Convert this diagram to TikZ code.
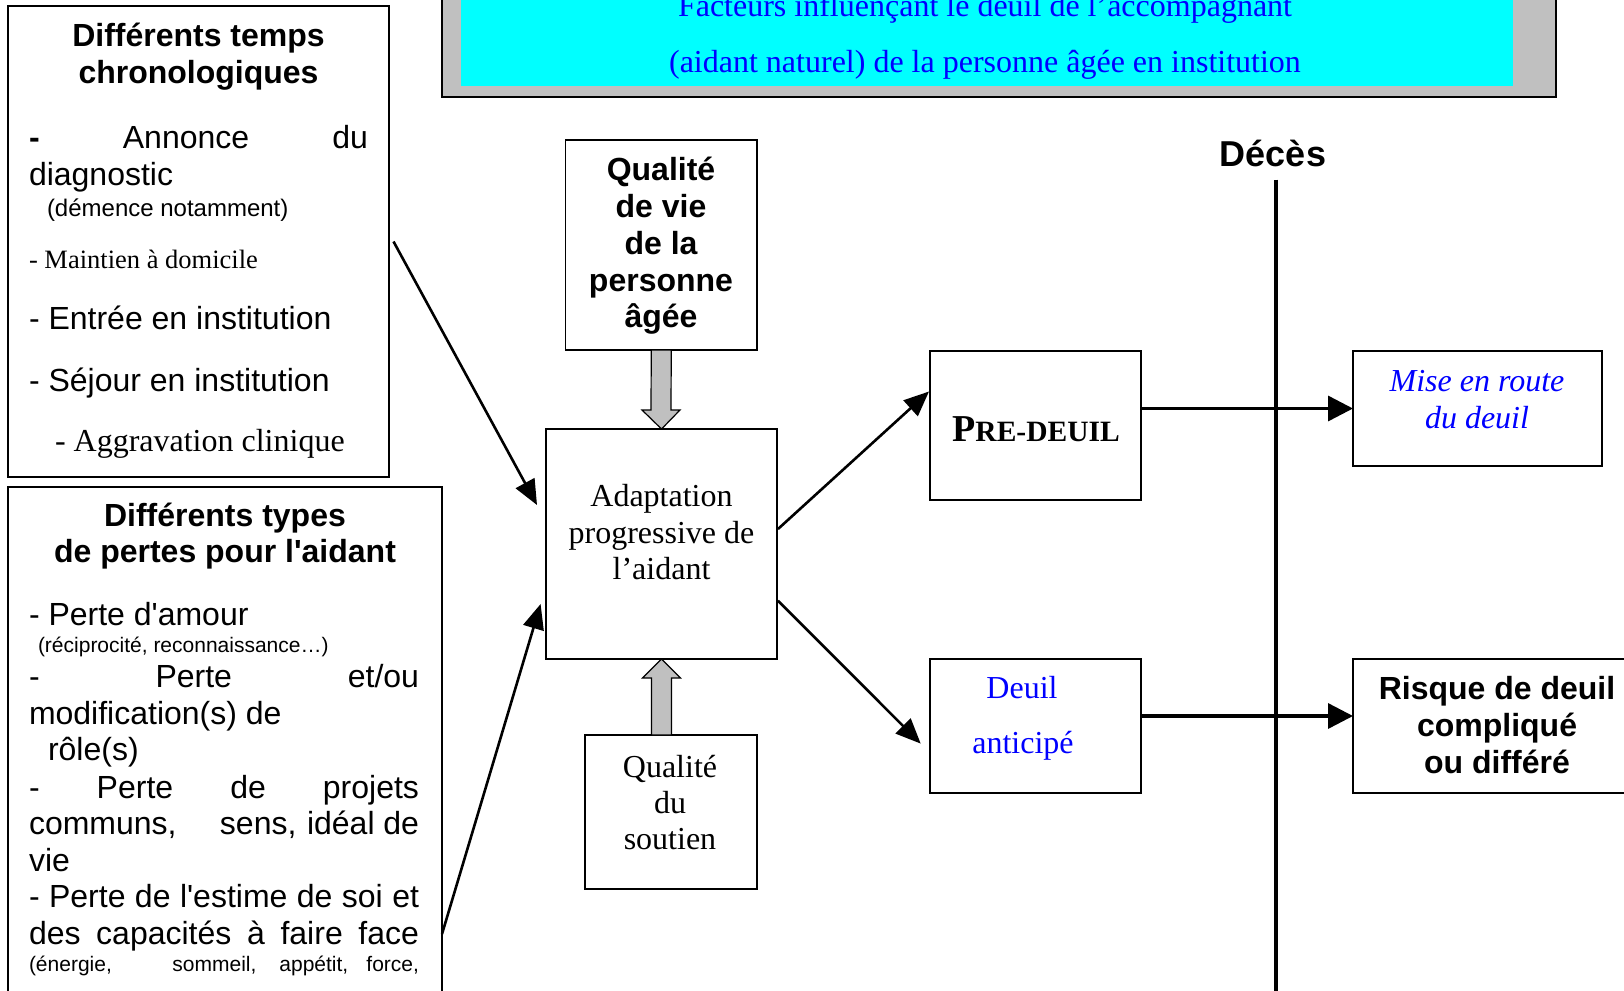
\documentclass[tikz,border=0pt]{standalone}
\usepackage{fontspec}
\setmainfont{Liberation Serif}
\newfontfamily\arialf{Liberation Sans}
\usetikzlibrary{arrows.meta,calc}
\definecolor{titlecyan}{RGB}{0,255,255}
\definecolor{framegray}{RGB}{192,192,192}
\definecolor{txtblue}{RGB}{0,0,255}
\tikzset{
  box/.style={draw=black, line width=1.6pt, fill=white, inner sep=0pt, outer sep=0pt},
  ar/.style={font=\arialf\fontsize{32}{37}\selectfont},
  arb/.style={font=\arialf\bfseries\fontsize{32}{37}\selectfont},
  arsmall/.style={font=\arialf\fontsize{21}{25}\selectfont},
  tm/.style={font=\fontsize{32}{37}\selectfont},
  lbl/.style={inner sep=0pt, outer sep=0pt, anchor=base},
  lbw/.style={inner sep=0pt, outer sep=0pt, anchor=base west},
  conn/.style={line width=2.6pt, -{Triangle[length=25pt,width=21pt]}},
  bigconn/.style={line width=3.4pt, -{Triangle[length=25pt,width=25pt]}},
  garrow/.style={draw=black, fill=framegray, line width=1.2pt, line join=miter},
}
\begin{document}
\begin{tikzpicture}[x=1pt,y=-1pt]
\useasboundingbox (0,0) rectangle (1624,990);
\clip (0,0) rectangle (1624,990);
\fill[white] (0,0) rectangle (1624,990);

% title
\node[draw=black, line width=2.4pt, fill=framegray, inner sep=0pt, minimum width=1114pt, minimum height=117pt] (tframe) at (999,38.5) {};
\node[fill=titlecyan, inner sep=0pt, minimum width=1052pt, minimum height=106pt] (tcyan) at (987,33) {};
\node[tm, lbl, text=txtblue] (title1) at (985,17) {Facteurs influençant le deuil de l’accompagnant};
\node[tm, lbl, text=txtblue] (title2) at (985,73) {(aidant naturel) de la personne âgée en institution};

% box 1
\node[box, minimum width=381pt, minimum height=471pt] (b1) at (198.5,241.5) {};
\node[arb, lbl] (b1h1) at (198.5,47) {Différents temps};
\node[arb, lbl] (b1h2) at (198.5,84) {chronologiques};
\node[ar, lbw] (b1l1) at (29,148.5) {\hbox to 339pt{\textbf{-} Annonce du}};
\node[ar, lbw] (b1l2) at (29,185) {diagnostic};
\node[lbw, font=\arialf\fontsize{24}{28}\selectfont] (b1l3) at (47,216) {(démence notamment)};
\node[lbw, font=\fontsize{26.5}{30}\selectfont] (b1l4) at (29,268) {- Maintien à domicile};
\node[ar, lbw] (b1l5) at (29,329) {- Entrée en institution};
\node[ar, lbw] (b1l6) at (29,391) {- Séjour en institution};
\node[tm, lbw] (b1l7) at (55,451.7) {- Aggravation clinique};

% box 2
\node[box, minimum width=434pt, minimum height=523pt] (b2) at (225,748.5) {};
\node[arb, lbl] (b2h1) at (225,526) {Différents types};
\node[arb, lbl] (b2h2) at (225,562) {de pertes pour l'aidant};
\node[ar, lbw] (b2l1) at (29,625.6) {- Perte d'amour};
\node[arsmall, lbw] (b2l2) at (38,652.5) {(réciprocité, reconnaissance…)};
\node[ar, lbw] (b2l3) at (29,687.7) {\hbox to 390pt{- Perte et/ou}};
\node[ar, lbw] (b2l4) at (29,724) {modification(s) de};
\node[ar, lbw] (b2l5) at (48,760) {rôle(s)};
\node[ar, lbw] (b2l6) at (29,798) {\hbox to 390pt{- Perte de projets}};
\node[ar, lbw] (b2l7) at (29,834.5) {\hbox to 390pt{communs,\hskip 9pt plus 4fil sens,\hskip 8pt plus 0.3fil idéal\hskip 7pt plus 0.2fil de}};
\node[ar, lbw] (b2l8) at (29,871) {vie};
\node[ar, lbw] (b2l9) at (29,907) {\hbox to 390pt{- Perte de l'estime de soi et}};
\node[ar, lbw] (b2l10) at (29,944.5) {\hbox to 390pt{des capacités à faire face}};
\node[arsmall, lbw] (b2l11) at (29,971.5) {\hbox to 390pt{(énergie,\hskip 6pt plus 4.5fil sommeil,\hskip 6pt plus 1.4fil appétit,\hskip 6pt plus 1fil force,}};

% centre column
\node[box, minimum width=191.5pt, minimum height=210pt] (qv) at (661.25,245) {};
\node[arb, lbl] (qv1) at (661,180) {Qualité};
\node[arb, lbl] (qv2) at (661,217) {de vie};
\node[arb, lbl] (qv3) at (661,254) {de la};
\node[arb, lbl] (qv4) at (661,291) {personne};
\node[arb, lbl] (qv5) at (661,327.5) {âgée};

\node[box, minimum width=231pt, minimum height=230pt] (ad) at (661.5,544) {};
\node[tm, lbl] (ad1) at (661.5,506.5) {Adaptation};
\node[tm, lbl] (ad2) at (661.5,543) {progressive de};
\node[tm, lbl] (ad3) at (661.5,579.5) {l’aidant};

\node[box, minimum width=172pt, minimum height=154pt] (so) at (671,812) {};
\node[tm, lbl] (so1) at (670,777) {Qualité};
\node[tm, lbl] (so2) at (670,813) {du};
\node[tm, lbl] (so3) at (670,849.5) {soutien};

% gray block arrows
\draw[garrow] ($(qv.south)+(-10,0)$) -- ($(qv.south)+(10,0)$) -- ($(ad.north)+(9.5,-19)$) -- ($(ad.north)+(18.5,-19)$) -- (ad.north) -- ($(ad.north)+(-19.5,-19)$) -- ($(ad.north)+(-10.5,-19)$) -- cycle;
\draw[garrow] ($(ad.south|-so.north)+(-10,0)$) -- ($(ad.south|-so.north)+(10,0)$) -- ($(ad.south)+(10,19)$) -- ($(ad.south)+(19,19)$) -- (ad.south) -- ($(ad.south)+(-19,19)$) -- ($(ad.south)+(-10,19)$) -- cycle;

% right part
\node[box, minimum width=211pt, minimum height=149pt] (pd) at (1035.5,425.5) {};
\node[lbl, font=\bfseries\fontsize{38}{40}\selectfont] (pdt) at (1036,441) {P{\fontsize{29.5}{32}\selectfont RE-DEUIL}};

\node[box, minimum width=211pt, minimum height=134pt] (da) at (1035.5,726) {};
\node[tm, lbl, text=txtblue] (da1) at (1022,698.5) {Deuil};
\node[tm, lbl, text=txtblue] (da2) at (1023,753) {anticipé};

\node[box, minimum width=249pt, minimum height=115pt] (mr) at (1477.5,408.5) {};
\node[tm, lbl, text=txtblue, font=\itshape\fontsize{32}{37}\selectfont] (mr1) at (1477,391.5) {Mise en route};
\node[tm, lbl, text=txtblue, font=\itshape\fontsize{32}{37}\selectfont] (mr2) at (1477,428) {du deuil};

\node[box, minimum width=287pt, minimum height=134pt] (rq) at (1496.5,726) {};
\node[arb, lbl] (rq1) at (1497,699) {Risque de deuil};
\node[arb, lbl] (rq2) at (1497,736.5) {compliqué};
\node[arb, lbl] (rq3) at (1497,773) {ou différé};

% death line
\node[lbl, font=\arialf\bfseries\fontsize{36}{40}\selectfont] (deces) at (1273,166) {Décès};
\coordinate (dtop) at (1276,179.5);
\coordinate (dbot) at (1276,1000);
\draw[line width=4.2pt] (dtop) -- (dbot);

% connectors
\draw[bigconn] (pd.east|-mr.west) -- (mr.west);
\draw[bigconn] ($(da.east)+(0,-10)$) -- ($(rq.west)+(0,-10)$);
\draw[conn] ($(b1.east)+(4.5,0)$) -- ($(ad.west)+(-9,-39)$);
\draw[conn] ($(b2.east)+(0,185.5)$) -- ($(ad.west)+(-5.4,60)$);
\draw[conn] ($(ad.east)+(1,-15)$) -- ($(pd.west)+(-1,-34)$);
\draw[conn] ($(ad.east)+(1,56.7)$) -- ($(da.west)+(-9.3,17.6)$);
\end{tikzpicture}
\end{document}
